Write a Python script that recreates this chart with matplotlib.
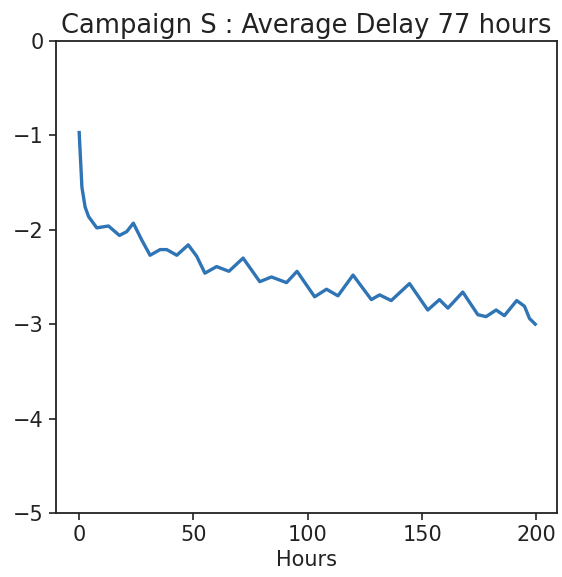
import matplotlib
matplotlib.use("Agg")
import matplotlib.pyplot as plt

hours = [0, 1.2, 2.6, 4.1, 7.7, 12.8, 17.6, 20.8, 23.7, 27.4, 31, 35.4, 38.3, 42.7, 47.7,
         51.4, 55, 60.1, 65.5, 71.7, 79, 84.1, 90.7, 95.3, 103, 108.2, 113.2, 119.8,
         127.8, 131.4, 136.5, 144.5, 152.5, 157.6, 161.3, 167.8, 174.4, 178, 182.4,
         186, 191.4, 194.8, 197, 199.5]
values = [-0.97, -1.55, -1.76, -1.86, -1.98, -1.96, -2.06, -2.02, -1.93, -2.11, -2.27,
          -2.21, -2.21, -2.27, -2.16, -2.28, -2.46, -2.39, -2.44, -2.30, -2.55, -2.50,
          -2.56, -2.44, -2.71, -2.63, -2.70, -2.48, -2.74, -2.69, -2.75, -2.57, -2.85,
          -2.74, -2.83, -2.66, -2.90, -2.92, -2.85, -2.91, -2.75, -2.81, -2.94, -3.00]

fig = plt.figure(figsize=(5.62, 5.77), dpi=100)
ax = fig.add_axes([0.099, 0.111, 0.892, 0.818])
ax.plot(hours, values, color="#2f74b5", linewidth=2.4)
ax.set_ylim(-5, 0)
ax.set_xlim(-10.3, 209)
ax.set_xticks([0, 50, 100, 150, 200])
ax.set_yticks([0, -1, -2, -3, -4, -5])
ax.tick_params(labelsize=15, length=5, width=1.2, colors="#222222")
for s in ax.spines.values():
    s.set_linewidth(1.3)
    s.set_color("#222222")
ax.set_xlabel("Hours", fontsize=15, color="#222222")
ax.set_title("Campaign S : Average Delay 77 hours", fontsize=18.5, color="#222222")
fig.savefig("out.png", dpi=100)
